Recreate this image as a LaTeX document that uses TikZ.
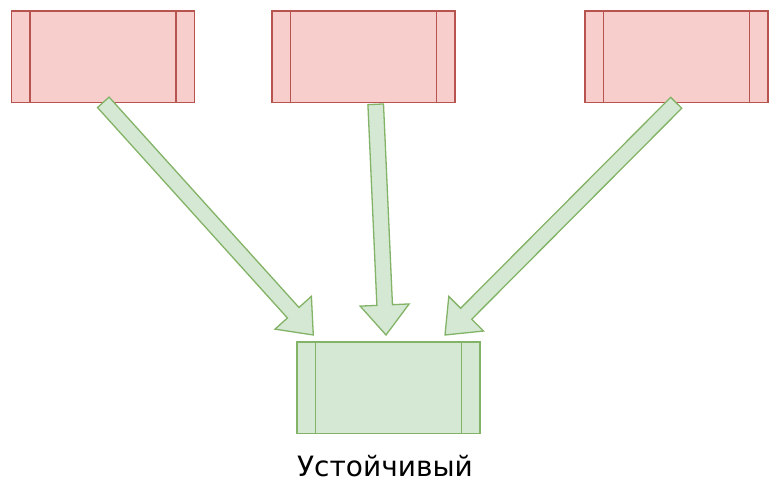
\documentclass[tikz,border=0pt]{standalone}
\usepackage{fontspec}
\setmainfont{DejaVu Sans}
\usetikzlibrary{calc}
% block arrow between two named points
\newcommand\blockarrow[2]{%
  \coordinate (hb) at ($(#2)!30pt!(#1)$);
  \draw[flexarrow] ($(#1)!7.8pt!90:(#2)$) -- ($(hb)!7.8pt!-90:(#1)$)
    -- ($(hb)!24.5pt!-90:(#1)$) -- (#2) -- ($(hb)!24.5pt!90:(#1)$)
    -- ($(hb)!7.8pt!90:(#1)$) -- ($(#1)!7.8pt!-90:(#2)$) -- cycle;}
\definecolor{redfill}{HTML}{F8CECC}
\definecolor{redline}{HTML}{B85450}
\definecolor{greenfill}{HTML}{D5E8D4}
\definecolor{greenline}{HTML}{82B366}
\begin{document}
\begin{tikzpicture}[x=1pt, y=-1pt, line width=1.3pt,
    proc/.style={draw, rectangle, minimum width=183pt, minimum height=91.5pt,
      inner sep=0pt, outer sep=0pt},
    redproc/.style={proc, draw=redline, fill=redfill},
    greenproc/.style={proc, draw=greenline, fill=greenfill},
    flexarrow/.style={draw=greenline, fill=greenfill, line join=miter}]
  \useasboundingbox (0,0) rectangle (781,497);
  \foreach \i/\x in {1/103, 2/363.5, 3/676.5}{
    \node[redproc] (src\i) at (\x,56.75) {};
    \draw[redline] ([xshift=18.5pt]src\i.north west) -- ([xshift=18.5pt]src\i.south west);
    \draw[redline] ([xshift=-18.5pt]src\i.north east) -- ([xshift=-18.5pt]src\i.south east);
  };
  \node[greenproc] (tgt) at (388.5,387.6) {};
  \draw[greenline] ([xshift=18.5pt]tgt.north west) -- ([xshift=18.5pt]tgt.south west);
  \draw[greenline] ([xshift=-18.5pt]tgt.north east) -- ([xshift=-18.5pt]tgt.south east);
  \node[anchor=base, inner sep=0pt, font=\fontsize{28}{32}\selectfont] (lbl) at (385,476.7) {Устойчивый};
  % arrows
  \coordinate (t1) at (103.3,102.3);
  \coordinate (h1) at (313.3,335);
  \coordinate (t2) at (375.7,104.3);
  \coordinate (h2) at (386,335);
  \coordinate (t3) at (676.2,102.8);
  \coordinate (h3) at (445,335);
  \blockarrow{t1}{h1}
  \blockarrow{t2}{h2}
  \blockarrow{t3}{h3}
\end{tikzpicture}
\end{document}
